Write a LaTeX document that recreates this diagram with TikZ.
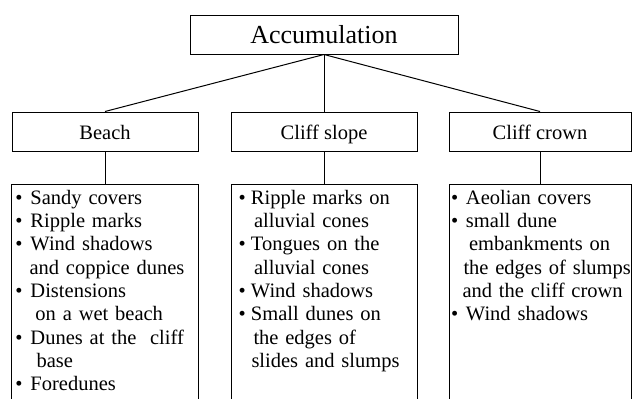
\documentclass[tikz,border=0pt]{standalone}
\usepackage{fontspec}
\setmainfont{Liberation Serif}
\usetikzlibrary{positioning}
\tikzset{every picture/.style={line width=1pt},
  headbox/.style={draw,minimum height=39pt,inner sep=0pt,text height=15pt,text depth=0pt,font=\fontsize{20.5}{24}\selectfont},
  listbox/.style={draw,anchor=north,align=left,inner ysep=6pt,text depth=300pt,font=\fontsize{20.5}{23.3}\selectfont}}
\newcommand{\bul}[1][15pt]{\makebox[#1][l]{\textbullet}}

\begin{document}
\begin{tikzpicture}[x=1pt,y=-1pt]
\useasboundingbox (0,0) rectangle (632,399);
\node (acc) at (324,34.5) [draw,minimum width=268pt,minimum height=39pt,inner sep=0pt,text height=17.5pt,text depth=0pt,font=\fontsize{26}{30}\selectfont] {Accumulation};
\foreach \n/\x/\w/\t in {beach/105/186/Beach, slope/324/186/Cliff slope, crown/540/182/Cliff crown} {
\node (\n) at (\x,131.5) [headbox,minimum width=\w pt] {\t};
\draw (acc.south) -- (\n.north);
}

\node (beachlist) [listbox,below=32pt of beach,text width=179pt,inner xsep=4pt] {\bul Sandy covers\\
\bul Ripple marks\\
\bul Wind shadows\\
\hspace*{14pt}and coppice dunes\\
\bul Distensions\\
\hspace*{20pt}on a wet beach\\
\bul Dunes at the \ cliff\\
\hspace*{21pt}base\\
\bul Foredunes};
\node (slopelist) [listbox,below=32pt of slope,text width=171pt,inner xsep=7.5pt] {\bul[12.5pt]Ripple marks on\\
\hspace*{15.5pt}alluvial cones\\
\bul[12.5pt]Tongues on the\\
\hspace*{15.5pt}alluvial cones\\
\bul[12.5pt]Wind shadows\\
\bul[12.5pt]Small dunes on\\
\hspace*{15pt}the edges of\\
\hspace*{13pt}slides and slumps};
\node (crownlist) [listbox,below=32pt of crown,text width=178pt,inner xsep=2pt] {\bul Aeolian covers\\
\bul small dune\\
\hspace*{18pt}embankments on\\
\hspace*{12.5pt}\mbox{the edges of slumps}\\
\hspace*{11.5pt}and the cliff crown\\
\bul Wind shadows};

\foreach \n in {beach, slope, crown} {
\draw (\n.south) -- (\n list.north);
}
\end{tikzpicture}
\end{document}
